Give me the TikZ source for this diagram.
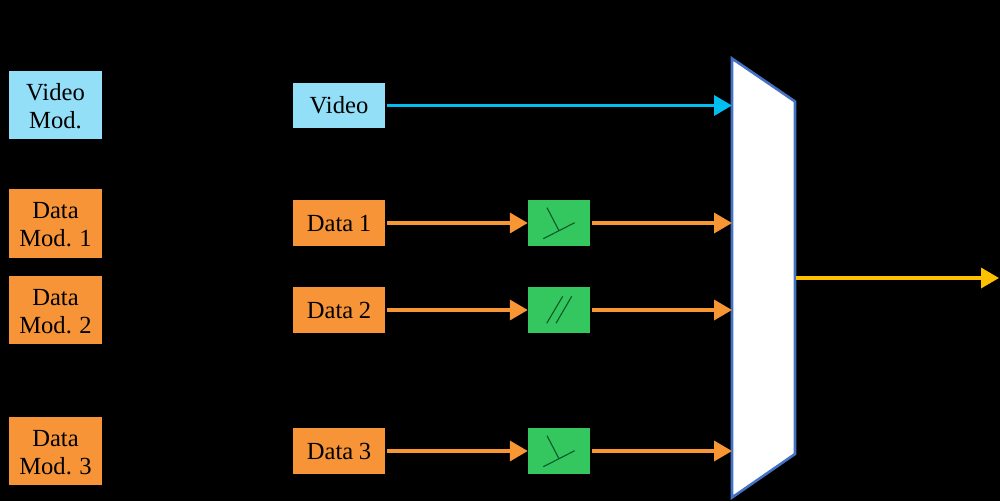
\documentclass[tikz,border=0pt]{standalone}
\usepackage{fontspec}
\setmainfont{Liberation Serif}
\usetikzlibrary{arrows.meta}
\definecolor{skyfill}{HTML}{92DFF7}
\definecolor{orangefill}{HTML}{F89438}
\definecolor{greenfill}{HTML}{34C65F}
\definecolor{muxedge}{HTML}{4472C4}
\definecolor{videoline}{HTML}{00BFF0}
\definecolor{dataline}{HTML}{F79633}
\definecolor{outline}{HTML}{FFC000}
\definecolor{markline}{HTML}{0B5A2A}
% one line of box text, set on a fixed baseline below the line's centre position
\newcommand{\tline}[2][9pt]{\raisebox{-#1}[0pt][0pt]{\spaceskip=0.22em\relax #2}}
\tikzset{
  x=1pt, y=-1pt,
  label text/.style={font=\fontsize{24.6}{28}\selectfont, text=black, align=center, inner sep=0pt},
  modbox/.style={label text, minimum width=93pt, minimum height=68pt},
  srcbox/.style={label text, minimum width=92pt, minimum height=45.5pt},
  mixbox/.style={fill=greenfill, minimum width=62pt, minimum height=45.5pt, inner sep=0pt},
  feed/.style={line width=3.5pt, -{Triangle[length=18pt,width=20pt]}, shorten <=2pt},
  slash/.style={draw=markline, line width=1.1pt},
}
\begin{document}
\begin{tikzpicture}
\useasboundingbox[fill=black] (0,0) rectangle (1000,501);

% modulator column
\node[modbox, fill=skyfill] (vm) at (55.5,105) {\tline{Video}\\\tline{Mod.}};
\node[modbox, fill=orangefill, minimum height=69pt] (dm1) at (55.5,223.5) {\tline{Data}\\\tline{Mod. 1}};
\node[modbox, fill=orangefill] (dm2) at (55.5,310) {\tline{Data}\\\tline{Mod. 2}};
\node[modbox, fill=orangefill] (dm3) at (55.5,451) {\tline{Data}\\\tline{Mod. 3}};

% source column
\node[srcbox, fill=skyfill] (v) at (339,105.5) {\tline[8pt]{Video}};
\node[srcbox, fill=orangefill] (d1) at (339,223) {\tline[8pt]{Data 1}};
\node[srcbox, fill=orangefill] (d2) at (339,310) {\tline[8pt]{Data 2}};
\node[srcbox, fill=orangefill] (d3) at (339,451) {\tline[8pt]{Data 3}};

% mixing blocks
\node[mixbox] (g1) at (559,223) {};
\node[mixbox] (g2) at (559,310) {};
\node[mixbox] (g3) at (559,451) {};

% multiplexer body
\draw[fill=white, draw=muxedge, line width=2.6pt, line join=miter]
  (732,58.5) -- (795,101.5) -- (795,454) -- (732,497.5) -- cycle;

\coordinate (inv) at (732,105.5);
\coordinate (in1) at (732,223);
\coordinate (in2) at (732,310);
\coordinate (in3) at (732,451);
\coordinate (mo) at (796,278);
\coordinate (out) at (999,278);

% connectors
\draw[feed, draw=videoline, fill=videoline] (v.east) -- (inv);
\foreach \a/\b/\c in {d1/g1/in1, d2/g2/in2, d3/g3/in3}{
  \draw[feed, draw=dataline, fill=dataline] (\a.east) -- (\b.west);
  \draw[feed, draw=dataline, fill=dataline] (\b.east) -- (\c);
}
\draw[line width=3.5pt, draw=outline, -{Triangle[length=18pt,width=20pt,fill=outline]}] (mo) -- (out);

% symbols inside the mixing blocks
\draw[slash] (547,207.7) -- (559,230.7) (543.3,238.7) -- (574.7,222.7);
\draw[slash] (546.7,323.3) -- (562.7,296.3) (556,323.3) -- (571.7,296.3);
\draw[slash] (547,435.7) -- (559,458.7) (543.3,466.7) -- (574.7,450.7);
\end{tikzpicture}
\end{document}
